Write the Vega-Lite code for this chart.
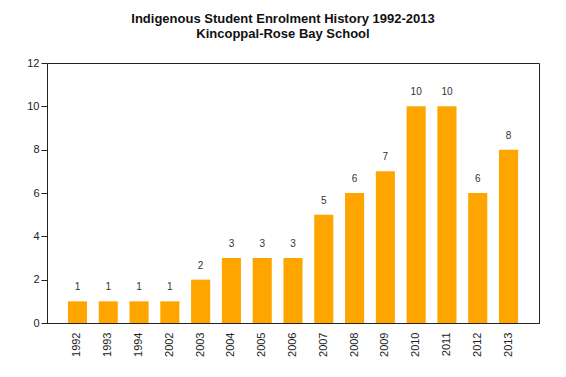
{
  "$schema": "https://vega.github.io/schema/vega-lite/v6.json",
  "autosize": "none",
  "width": 492,
  "height": 260,
  "padding": {"left": 47, "top": 63, "right": 27, "bottom": 54},
  "background": "white",
  "title": {
    "text": ["Indigenous Student Enrolment History 1992-2013", "Kincoppal-Rose Bay School"],
    "font": "Liberation Sans",
    "fontSize": 13,
    "fontWeight": "bold",
    "color": "#111",
    "lineHeight": 15.5,
    "anchor": "middle",
    "dx": -10,
    "offset": 16
  },
  "config": {
    "view": {"stroke": "#222", "strokeWidth": 1},
    "font": "Liberation Sans"
  },
  "data": {
    "values": [
      {"year": "1992", "students": 1},
      {"year": "1993", "students": 1},
      {"year": "1994", "students": 1},
      {"year": "2002", "students": 1},
      {"year": "2003", "students": 2},
      {"year": "2004", "students": 3},
      {"year": "2005", "students": 3},
      {"year": "2006", "students": 3},
      {"year": "2007", "students": 5},
      {"year": "2008", "students": 6},
      {"year": "2009", "students": 7},
      {"year": "2010", "students": 10},
      {"year": "2011", "students": 10},
      {"year": "2012", "students": 6},
      {"year": "2013", "students": 8}
    ]
  },
  "encoding": {
    "x": {
      "field": "year",
      "type": "ordinal",
      "sort": null,
      "scale": {"paddingInner": 0.38, "paddingOuter": 0.68},
      "axis": {
        "title": null,
        "labelAngle": -90,
        "labelFontSize": 11,
        "labelColor": "#222",
        "ticks": false,
        "labelPadding": 9,
        "domainColor": "#222"
      }
    },
    "y": {
      "field": "students",
      "type": "quantitative",
      "scale": {"domain": [0, 12]},
      "axis": {
        "title": null,
        "values": [0, 2, 4, 6, 8, 10, 12],
        "grid": false,
        "tickSize": 6,
        "tickColor": "#222",
        "domainColor": "#222",
        "labelFontSize": 11,
        "labelColor": "#222",
        "labelPadding": 2
      }
    }
  },
  "layer": [
    {"mark": {"type": "bar", "color": "#FFA500"}},
    {
      "mark": {"type": "text", "dy": -9, "fontSize": 10, "color": "#333", "baseline": "bottom"},
      "encoding": {"text": {"field": "students", "type": "quantitative"}}
    }
  ]
}
